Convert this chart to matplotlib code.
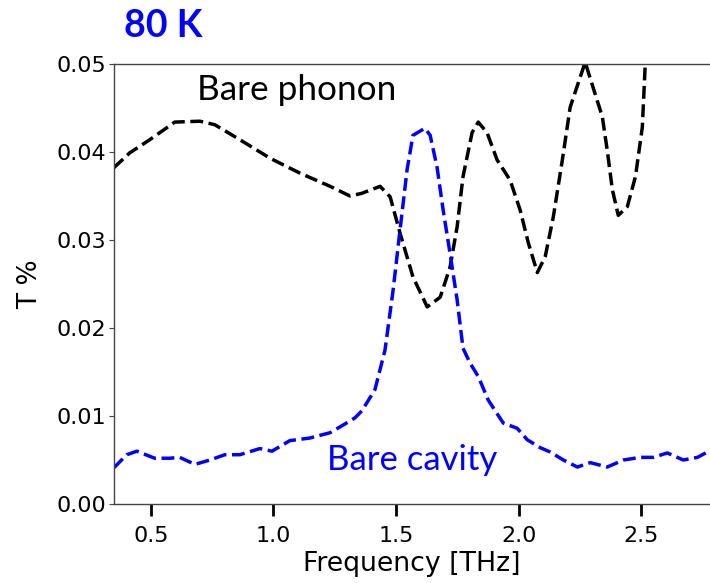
import matplotlib
matplotlib.use("Agg")
import matplotlib.pyplot as plt

# Bare phonon (black dashed)
phonon_f = [0.349, 0.414, 0.496, 0.598, 0.700, 0.761, 0.863, 0.986, 1.108, 1.231,
            1.312, 1.360, 1.435, 1.476, 1.516, 1.569, 1.627, 1.680, 1.720, 1.749,
            1.773, 1.810, 1.835, 1.871, 1.912, 1.965, 2.006, 2.039, 2.076, 2.108,
            2.141, 2.178, 2.210, 2.271, 2.341, 2.361, 2.382, 2.406, 2.443, 2.476,
            2.504, 2.516, 2.550]
phonon_T = [0.0382, 0.0399, 0.0414, 0.0434, 0.0435, 0.0431, 0.0414, 0.0393, 0.0376, 0.0361,
            0.0350, 0.0353, 0.0361, 0.0349, 0.0308, 0.0258, 0.0224, 0.0235, 0.0269, 0.0315,
            0.0372, 0.0422, 0.0434, 0.0422, 0.0391, 0.0368, 0.0334, 0.0297, 0.0263, 0.0281,
            0.0326, 0.0391, 0.0451, 0.0502, 0.0440, 0.0402, 0.0357, 0.0328, 0.0338, 0.0372,
            0.0428, 0.0500, 0.0580]

# Bare cavity (blue dashed)
cavity_f = [0.349, 0.402, 0.443, 0.516, 0.578, 0.618, 0.680, 0.741, 0.802, 0.863,
            0.945, 0.994, 1.067, 1.149, 1.231, 1.292, 1.333, 1.361, 1.414, 1.455,
            1.488, 1.516, 1.545, 1.569, 1.618, 1.639, 1.667, 1.692, 1.720, 1.749,
            1.773, 1.802, 1.835, 1.876, 1.937, 1.994, 2.035, 2.088, 2.129, 2.182,
            2.239, 2.292, 2.361, 2.427, 2.496, 2.549, 2.606, 2.671, 2.729, 2.769, 2.800]
cavity_T = [0.0041, 0.0056, 0.0060, 0.0052, 0.0052, 0.0053, 0.0045, 0.0050, 0.0056, 0.0056,
            0.0063, 0.0060, 0.0072, 0.0075, 0.0081, 0.0091, 0.0098, 0.0106, 0.0130, 0.0175,
            0.0243, 0.0311, 0.0380, 0.0419, 0.0427, 0.0419, 0.0383, 0.0334, 0.0285, 0.0232,
            0.0177, 0.0160, 0.0145, 0.0118, 0.0092, 0.0086, 0.0073, 0.0064, 0.0059, 0.0050,
            0.0042, 0.0047, 0.0042, 0.0050, 0.0053, 0.0053, 0.0058, 0.0050, 0.0053, 0.0059, 0.0060]

xticks = [0.5, 1.0, 1.5, 2.0, 2.5]
yticks = [0.00, 0.01, 0.02, 0.03, 0.04, 0.05]

W, H = 710, 583
fig = plt.figure(figsize=(W / 100, H / 100), dpi=100)
ax = fig.add_axes([114 / W, (H - 504) / H, (W - 114) / W, 440 / H])

ax.plot(phonon_f, phonon_T, color="black", lw=2.5, ls="--")
ax.plot(cavity_f, cavity_T, color="#0000ff", lw=2.5, ls="--")

ax.set_xlim(0.35, 2.78)
ax.set_ylim(0.0, 0.05)
ax.set_xticks(xticks)
ax.set_yticks(yticks)
ax.set_xticklabels([f"{v:.1f}" for v in xticks])
ax.set_yticklabels([f"{v:.2f}" for v in yticks])

for s in ["left", "bottom", "top"]:
    ax.spines[s].set_color("#444444")
    ax.spines[s].set_linewidth(1.0)
ax.spines["right"].set_visible(False)

ax.tick_params(axis="x", direction="out", length=8.5, width=2.0, color="black",
               labelsize=16, pad=7)
ax.tick_params(axis="y", direction="out", length=3.5, width=0.8, color="#444444",
               labelsize=16, pad=2)

ax.set_xlabel("Frequency [THz]", fontsize=19.3, labelpad=4)
ax.set_ylabel("T %", fontsize=19, labelpad=10)

fig.text(124 / W, 1 - 37 / H, "80 K", color="#0000ff", fontsize=27,
         fontweight="bold", family="Lato", va="baseline", ha="left")
fig.text(197 / W, 1 - 100 / H, "Bare phonon", color="black", fontsize=25.3,
         family="Lato", va="baseline", ha="left")
fig.text(327 / W, 1 - 470 / H, "Bare cavity", color="#0000ff", fontsize=25,
         family="Lato", va="baseline", ha="left")

fig.savefig("out.png", dpi=100)
